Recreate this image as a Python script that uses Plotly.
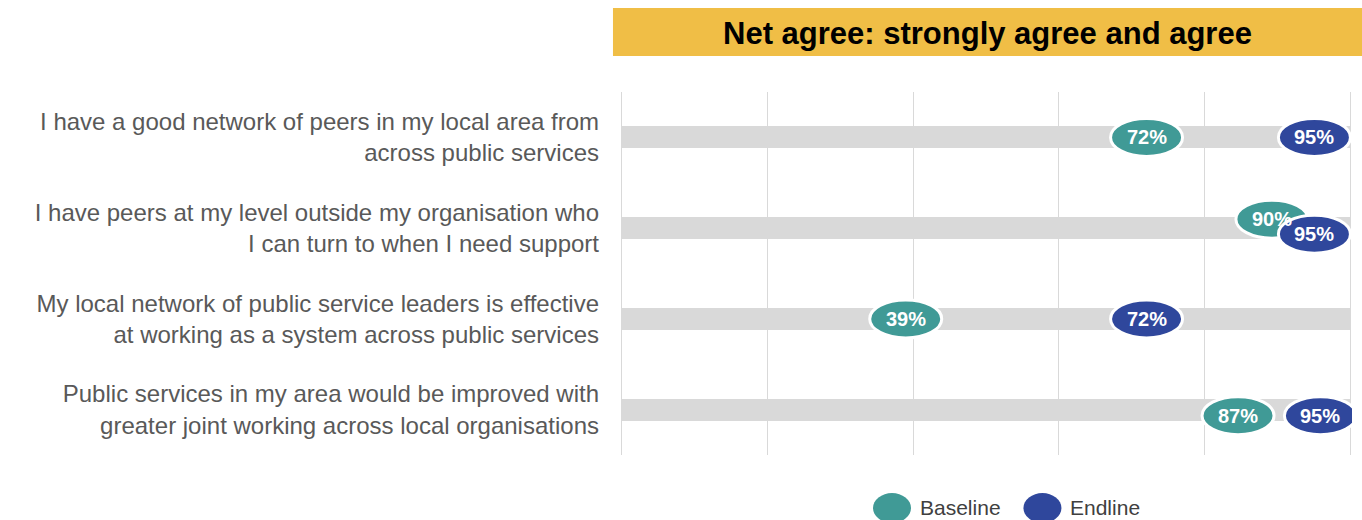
import plotly.graph_objects as go

# Survey statements (top to bottom)
statements = [
    "I have a good network of peers in my local area from<br>across public services",
    "I have peers at my level outside my organisation who<br>I can turn to when I need support",
    "My local network of public service leaders is effective<br>at working as a system across public services",
    "Public services in my area would be improved with<br>greater joint working across local organisations",
]
baseline = [72, 90, 39, 87]
endline = [95, 95, 72, 95]
track = [100, 100, 100, 100]
series_names = ["Baseline", "Endline"]
tick_values = [0, 20, 40, 60, 80, 100]
title_text = "Net agree: strongly agree and agree"

TEAL = "#409a96"
NAVY = "#2f479c"
GOLD = "#f0be46"
GREY_TRACK = "#d9d9d9"
GRID = "#d9d9d9"
LABEL = "#595959"
FONT = "Arial, Liberation Sans, sans-serif"

# Pixel nudges (dx, dy) for badges that would otherwise collide
badge_nudge = {
    ("Baseline", 1): (-6, -9),
    ("Endline", 1): (0, 6),
    ("Baseline", 3): (-18, 6),
    ("Endline", 3): (6, 6),
}

rows = list(range(len(statements)))

fig = go.Figure()

# Grey background track for each statement
fig.add_trace(go.Bar(
    x=track, y=rows, orientation="h", width=0.24,
    marker=dict(color=GREY_TRACK, line=dict(width=0)),
    hoverinfo="skip", showlegend=False,
))

shapes = []
annotations = []

# Elliptical value badges anchored at each value
for name, values, color in ((series_names[0], baseline, TEAL), (series_names[1], endline, NAVY)):
    for r, v in zip(rows, values):
        dx, dy = badge_nudge.get((name, r), (0, 0))
        shapes.append(dict(
            type="circle", xref="x", yref="y",
            xsizemode="pixel", ysizemode="pixel",
            xanchor=v, yanchor=r,
            x0=dx - 36, x1=dx + 36, y0=-dy - 19, y1=-dy + 19,
            fillcolor=color, line=dict(color="white", width=3),
            layer="above",
        ))
        annotations.append(dict(
            x=v, y=r, xref="x", yref="y", text=f"<b>{v}%</b>", showarrow=False,
            xshift=dx, yshift=-dy,
            font=dict(family=FONT, size=20, color="white"),
        ))

# Header banner
shapes.append(dict(
    type="rect", xref="paper", yref="paper",
    x0=-0.0096, x1=1.0137, y0=1.0992, y1=1.2314,
    fillcolor=GOLD, line=dict(width=0), layer="above",
))
annotations.append(dict(
    x=0.5014, y=1.162, xref="paper", yref="paper", text=f"<b>{title_text}</b>",
    xanchor="center", yanchor="middle",
    showarrow=False, font=dict(family=FONT, size=31, color="black"),
))

# Legend built from ellipses and labels below the plot
legend_items = [(series_names[0], TEAL, 0.3716), (series_names[1], NAVY, 0.5771)]
for name, color, xp in legend_items:
    shapes.append(dict(
        type="circle", xref="paper", yref="paper",
        xsizemode="pixel", ysizemode="pixel",
        xanchor=xp, yanchor=-0.146,
        x0=-19, x1=19, y0=-15, y1=15,
        fillcolor=color, line=dict(width=0), layer="above",
    ))
    annotations.append(dict(
        x=xp + 0.0355, y=-0.146, xref="paper", yref="paper", text=name,
        xanchor="left", yanchor="middle", showarrow=False,
        font=dict(family=FONT, size=21, color="#404040"),
    ))

fig.update_layout(
    width=1362, height=520,
    margin=dict(l=620, r=10, t=92, b=65),
    paper_bgcolor="white", plot_bgcolor="white",
    bargap=0, showlegend=False,
    shapes=shapes, annotations=annotations,
    xaxis=dict(
        range=[-0.15, 100.15], tickvals=tick_values, showticklabels=False,
        showgrid=True, gridcolor=GRID, gridwidth=1,
        zeroline=False, showline=False, fixedrange=True,
    ),
    yaxis=dict(
        range=[3.5, -0.5], tickvals=rows, ticktext=statements,
        tickfont=dict(family=FONT, size=24, color=LABEL),
        ticklabelstandoff=20, showgrid=False, zeroline=False,
        showline=False, fixedrange=True,
    ),
)

fig.write_html("out.html")
